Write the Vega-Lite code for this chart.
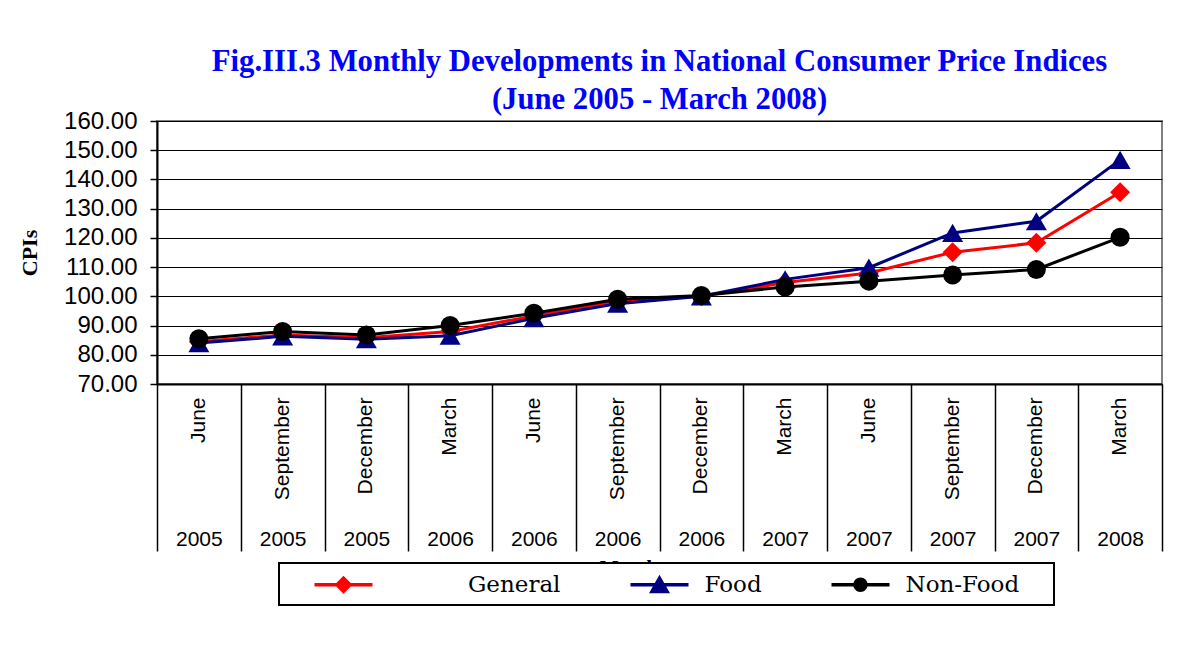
{
  "$schema": "https://vega.github.io/schema/vega-lite/v6.json",
  "width": 1005,
  "height": 263,
  "autosize": {"type": "none"},
  "padding": {"left": 157, "top": 121, "right": 31, "bottom": 263},
  "background": "white",
  "title": {
    "text": ["Fig.III.3 Monthly Developments in National Consumer Price Indices", "(June 2005 - March 2008)"],
    "font": "Liberation Serif",
    "fontSize": 30.7,
    "fontWeight": "bold",
    "color": "#0000ff",
    "lineHeight": 38,
    "offset": -7,
    "anchor": "middle"
  },
  "data": {
    "values": [
      {"period": "June 2005", "series": "General", "cpi": 84.5},
      {"period": "September 2005", "series": "General", "cpi": 86.8},
      {"period": "December 2005", "series": "General", "cpi": 85.8},
      {"period": "March 2006", "series": "General", "cpi": 88.0},
      {"period": "June 2006", "series": "General", "cpi": 93.3},
      {"period": "September 2006", "series": "General", "cpi": 98.2},
      {"period": "December 2006", "series": "General", "cpi": 100.0},
      {"period": "March 2007", "series": "General", "cpi": 104.7},
      {"period": "June 2007", "series": "General", "cpi": 108.0},
      {"period": "September 2007", "series": "General", "cpi": 115.1},
      {"period": "December 2007", "series": "General", "cpi": 118.3},
      {"period": "March 2008", "series": "General", "cpi": 135.6},
      {"period": "June 2005", "series": "Food", "cpi": 84.0},
      {"period": "September 2005", "series": "Food", "cpi": 86.3},
      {"period": "December 2005", "series": "Food", "cpi": 85.3},
      {"period": "March 2006", "series": "Food", "cpi": 86.5},
      {"period": "June 2006", "series": "Food", "cpi": 92.5},
      {"period": "September 2006", "series": "Food", "cpi": 97.5},
      {"period": "December 2006", "series": "Food", "cpi": 100.0},
      {"period": "March 2007", "series": "Food", "cpi": 105.8},
      {"period": "June 2007", "series": "Food", "cpi": 109.8},
      {"period": "September 2007", "series": "Food", "cpi": 121.7},
      {"period": "December 2007", "series": "Food", "cpi": 125.7},
      {"period": "March 2008", "series": "Food", "cpi": 146.7},
      {"period": "June 2005", "series": "Non-Food", "cpi": 85.5},
      {"period": "September 2005", "series": "Non-Food", "cpi": 88.0},
      {"period": "December 2005", "series": "Non-Food", "cpi": 86.8},
      {"period": "March 2006", "series": "Non-Food", "cpi": 90.0},
      {"period": "June 2006", "series": "Non-Food", "cpi": 94.2},
      {"period": "September 2006", "series": "Non-Food", "cpi": 99.0},
      {"period": "December 2006", "series": "Non-Food", "cpi": 100.3},
      {"period": "March 2007", "series": "Non-Food", "cpi": 103.2},
      {"period": "June 2007", "series": "Non-Food", "cpi": 105.2},
      {"period": "September 2007", "series": "Non-Food", "cpi": 107.3},
      {"period": "December 2007", "series": "Non-Food", "cpi": 109.2},
      {"period": "March 2008", "series": "Non-Food", "cpi": 120.2}
    ]
  },
  "resolve": {"axis": {"x": "independent"}},
  "layer": [
    {
      "transform": [{"filter": "datum.series === 'General'"}],
      "mark": {"type": "line", "color": "#ff0000", "strokeWidth": 3},
      "encoding": {
        "x": {
          "field": "period", "type": "nominal", "bandPosition": 0.5,
          "scale": {"type": "band", "domain": ["June 2005", "September 2005", "December 2005", "March 2006", "June 2006", "September 2006", "December 2006", "March 2007", "June 2007", "September 2007", "December 2007", "March 2008"], "paddingInner": 0, "paddingOuter": 0},
          "axis": {
            "orient": "bottom", "title": null,
            "labelExpr": "split(datum.value, ' ')[0]",
            "labelAngle": 270, "labelAlign": "right", "labelBaseline": "middle",
            "labelPadding": 13, "labelFont": "Liberation Sans", "labelFontSize": 21, "labelColor": "black",
            "labelOverlap": false, "ticks": false, "tickSize": 0,
            "domainColor": "black", "domainWidth": 2, "grid": false
          }
        },
        "y": {
          "field": "cpi", "type": "quantitative",
          "scale": {"domain": [70, 160], "zero": false, "nice": false},
          "axis": {"title": "CPIs", "values": [70, 80, 90, 100, 110, 120, 130, 140, 150, 160], "format": ".2f"}
        }
      }
    },
    {
      "transform": [{"filter": "datum.series === 'General'"}],
      "mark": {"type": "point", "shape": "diamond", "filled": true, "color": "#ff0000", "size": 400, "opacity": 1, "strokeWidth": 0},
      "encoding": {
        "x": {"field": "period", "type": "nominal", "bandPosition": 0.5, "axis": null},
        "y": {"field": "cpi", "type": "quantitative", "axis": {"title": "CPIs", "values": [70, 80, 90, 100, 110, 120, 130, 140, 150, 160], "format": ".2f"}}
      }
    },
    {
      "transform": [{"filter": "datum.series === 'Food'"}],
      "mark": {"type": "line", "color": "#000080", "strokeWidth": 3},
      "encoding": {
        "x": {"field": "period", "type": "nominal", "bandPosition": 0.5, "axis": null},
        "y": {"field": "cpi", "type": "quantitative", "axis": {"title": "CPIs", "values": [70, 80, 90, 100, 110, 120, 130, 140, 150, 160], "format": ".2f"}}
      }
    },
    {
      "transform": [{"filter": "datum.series === 'Food'"}],
      "mark": {"type": "point", "shape": "triangle-up", "filled": true, "color": "#000080", "size": 440, "opacity": 1, "strokeWidth": 0},
      "encoding": {
        "x": {"field": "period", "type": "nominal", "bandPosition": 0.5, "axis": null},
        "y": {"field": "cpi", "type": "quantitative", "axis": {"title": "CPIs", "values": [70, 80, 90, 100, 110, 120, 130, 140, 150, 160], "format": ".2f"}}
      }
    },
    {
      "transform": [{"filter": "datum.series === 'Non-Food'"}],
      "mark": {"type": "line", "color": "#000000", "strokeWidth": 3},
      "encoding": {
        "x": {"field": "period", "type": "nominal", "bandPosition": 0.5, "axis": null},
        "y": {"field": "cpi", "type": "quantitative", "axis": {"title": "CPIs", "values": [70, 80, 90, 100, 110, 120, 130, 140, 150, 160], "format": ".2f"}}
      }
    },
    {
      "transform": [{"filter": "datum.series === 'Non-Food'"}],
      "mark": {"type": "point", "shape": "circle", "filled": true, "color": "#000000", "size": 361, "opacity": 1, "strokeWidth": 0},
      "encoding": {
        "x": {"field": "period", "type": "nominal", "bandPosition": 0.5, "axis": null},
        "y": {"field": "cpi", "type": "quantitative", "axis": {"title": "CPIs", "values": [70, 80, 90, 100, 110, 120, 130, 140, 150, 160], "format": ".2f"}}
      }
    },
    {
      "mark": {"type": "point", "filled": true, "opacity": 0, "size": 400, "strokeWidth": 0},
      "encoding": {
        "x": {
          "field": "period", "type": "nominal", "bandPosition": 0.5,
          "axis": {
            "orient": "bottom", "title": "Months",
            "titleFont": "Liberation Serif", "titleFontWeight": "bold", "titleFontSize": 20, "titleColor": "black",
            "titleX": 475, "titleY": 190, "titleAlign": "center", "titleBaseline": "alphabetic", "titleAngle": 0,
            "labelExpr": "split(datum.value, ' ')[1]",
            "labelAngle": 0, "labelAlign": "center", "labelBaseline": "alphabetic", "labelPadding": -6,
            "labelFont": "Liberation Sans", "labelFontSize": 21, "labelColor": "black", "labelOverlap": false,
            "ticks": true, "tickBand": "extent", "tickSize": 167, "tickColor": "black", "tickWidth": 1.5,
            "domain": false, "grid": false
          }
        },
        "y": {"field": "cpi", "type": "quantitative", "axis": {"title": "CPIs", "values": [70, 80, 90, 100, 110, 120, 130, 140, 150, 160], "format": ".2f"}},
        "color": {
          "field": "series", "type": "nominal",
          "scale": {"domain": ["General", "Food", "Non-Food"], "range": ["#ff0000", "#000080", "#000000"]},
          "legend": {
            "title": null, "orient": "none", "legendX": 122, "legendY": 442, "direction": "horizontal",
            "padding": 0, "strokeColor": "black", "fillColor": "white",
            "labelFont": "DejaVu Serif", "labelFontSize": 23, "labelColor": "black",
            "symbolOffset": 53, "labelOffset": 33.5,
            "columnPadding": 34, "symbolSize": 400, "symbolStrokeWidth": 0, "symbolOpacity": 1,
            "encode": {
              "legend": {"update": {"strokeWidth": {"value": 2}}},
              "labels": {"update": {"dy": {"value": 10}, "dx": {"signal": "datum.label === 'General' ? 79.5 : 0"}}}
            }
          }
        },
        "shape": {
          "field": "series", "type": "nominal",
          "scale": {
            "domain": ["General", "Food", "Non-Food"],
            "range": [
              "M-2.9,0.82H2.9V1.18H-2.9Z M0,0.1L0.9,1L0,1.9L-0.9,1Z M-0.01,3L0.01,3L0,2.98Z",
              "M-2.9,0.82H2.9V1.18H-2.9Z M0,0L1.05,1.85L-1.05,1.85Z M-0.01,3L0.01,3L0,2.98Z",
              "M-2.9,0.82H2.9V1.18H-2.9Z M-0.72,1A0.72,0.72 0 1,1 0.72,1A0.72,0.72 0 1,1 -0.72,1Z M19.28,3L19.3,3L19.29,2.98Z"
            ]
          },
          "legend": {
            "title": null, "orient": "none", "legendX": 122, "legendY": 442, "direction": "horizontal",
            "padding": 0, "strokeColor": "black", "fillColor": "white",
            "labelFont": "DejaVu Serif", "labelFontSize": 23, "labelColor": "black",
            "symbolOffset": 53, "labelOffset": 33.5,
            "columnPadding": 34, "symbolSize": 400, "symbolStrokeWidth": 0, "symbolOpacity": 1,
            "encode": {
              "legend": {"update": {"strokeWidth": {"value": 2}}},
              "labels": {"update": {"dy": {"value": 10}, "dx": {"signal": "datum.label === 'General' ? 79.5 : 0"}}}
            }
          }
        }
      }
    }
  ],
  "config": {
    "view": {"stroke": "#808080", "strokeWidth": 2},
    "font": "Liberation Sans",
    "axisY": {
      "titleFont": "Liberation Serif", "titleFontWeight": "bold", "titleFontSize": 22,
      "titleColor": "black", "titlePadding": 22,
      "labelFont": "Liberation Sans", "labelFontSize": 24, "labelColor": "black",
      "labelPadding": 13, "tickSize": 7, "tickColor": "black", "tickWidth": 1.5,
      "domainColor": "black", "domainWidth": 2,
      "grid": true, "gridColor": "black", "gridWidth": 1, "gridOpacity": 1
    }
  }
}
